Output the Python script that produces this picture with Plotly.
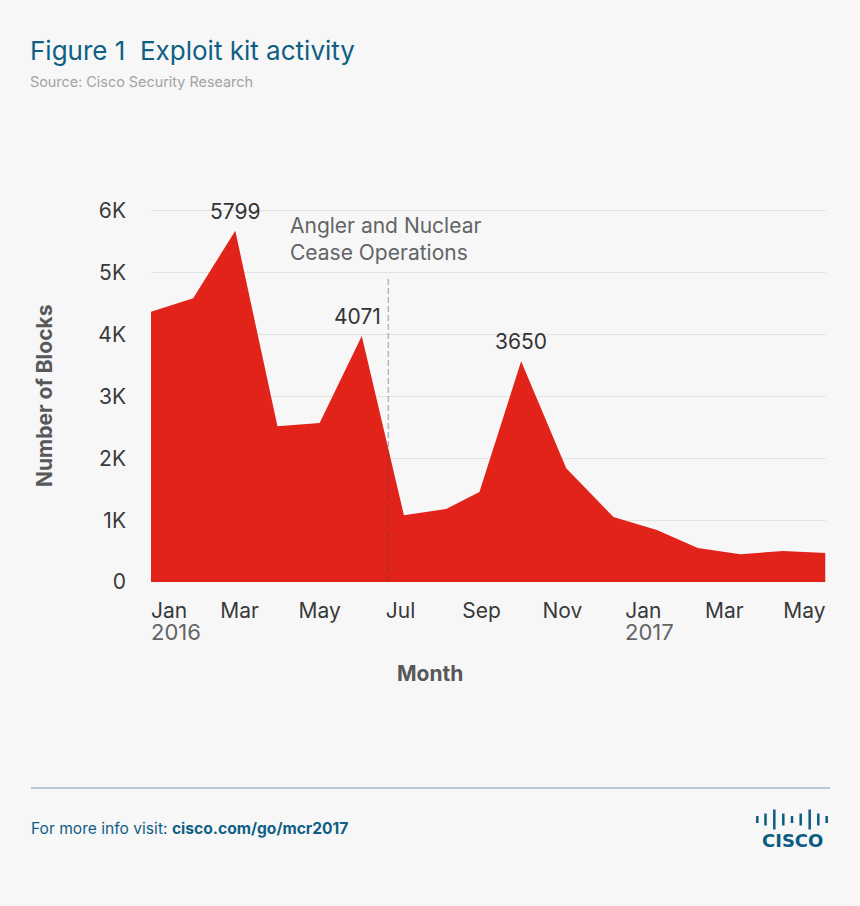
import plotly.graph_objects as go

# months counted from Jan 2016, values in blocks as read against the gridlines
month_pos = [0, 1, 2, 3, 4, 5, 6, 7, 7.79, 8.78, 9.85, 10.97, 12, 12.97, 13.98, 15, 16]
blocks = [4370, 4590, 5680, 2520, 2570, 3980, 1080, 1180, 1455, 3570, 1840, 1050, 840, 550, 450, 500, 470]

tick_months = [0.43, 2.1, 4, 5.92, 7.84, 9.76, 11.68, 13.6, 15.5]
tick_labels = ["Jan", "Mar", "May", "Jul", "Sep", "Nov", "Jan", "Mar", "May"]
y_ticks = [0, 1000, 2000, 3000, 4000, 5000, 6000]
y_labels = ["0", "1K", "2K", "3K", "4K", "5K", "6K"]

peak_months = [2, 4.9, 8.78]
peak_heights = [5680, 3980, 3570]
peak_labels = ["5799", "4071", "3650"]

W, H = 860, 906
FONT = "Inter"
BLUE = "#0f5f85"


def px(x):
    return x / W


def py(y):
    return 1 - y / H


fig = go.Figure()
fig.add_trace(go.Scatter(x=month_pos, y=blocks, mode="lines", fill="tozeroy",
                         fillcolor="#e2231a", line=dict(width=0, color="#e2231a"),
                         hoverinfo="skip", showlegend=False))

# y range runs a little past 6K so the top gridline still gets drawn
fig.update_layout(
    width=W, height=H,
    margin=dict(l=0, r=0, t=0, b=0),
    paper_bgcolor="#f7f7f7", plot_bgcolor="#f7f7f7",
    font=dict(family=FONT, size=21, color="#333333"),
    xaxis=dict(domain=[px(151), px(825.5)], range=[0, 16], showgrid=False, zeroline=False,
               automargin=False, tickmode="array", tickvals=tick_months, ticktext=tick_labels,
               ticks="", ticklabelstandoff=14, tickfont=dict(size=21, color="#39393b")),
    yaxis=dict(domain=[py(582), py(204.8)], range=[0, 6100], gridcolor="#e3e3e3", gridwidth=1,
               automargin=False, zeroline=False, tickmode="array", tickvals=y_ticks, ticktext=y_labels,
               ticks="", ticklabelstandoff=24, tickfont=dict(size=21, color="#39393b")),
)

# vertical marker, translucent so that it darkens over the area
fig.add_shape(type="line", xref="x", yref="y", x0=5.63, x1=5.63, y0=0, y1=4900,
              line=dict(color="rgba(70,70,70,0.36)", width=1.5, dash="6px,3px"))


def note(x, y, text, size, color, anchor="left", **kw):
    fig.add_annotation(xref="paper", yref="paper", x=px(x), y=py(y), text=text, showarrow=False,
                       xanchor=anchor, yanchor="middle", align=anchor, xshift=-2 if anchor == "left" else 0,
                       font=dict(family=kw.pop("family", FONT), size=size, color=color), **kw)


for m, h, label in zip(peak_months, peak_heights, peak_labels):
    fig.add_annotation(x=m, y=h, text=label, showarrow=False, yanchor="bottom", yshift=5,
                       font=dict(size=21, color="#333333"))

note(30, 51, "Figure 1  Exploit kit activity", 26, BLUE)
note(30, 81, "Source: Cisco Security Research", 14.4, "#a3a3a3")
note(290, 225, "Angler and Nuclear", 21, "#636466")
note(290, 253, "Cease Operations", 21, "#636466")
note(151, 632, "2016", 22, "#636466")
note(625, 632, "2017", 22, "#636466")
note(430, 673, "<b>Month</b>", 21, "#58585a", anchor="center")
note(44, 396, "<b>Number of Blocks</b>", 21, "#58585a", anchor="center", textangle=-90)
note(31, 828, "For more info visit: <b>cisco.com/go/mcr2017</b>", 15.6, BLUE)
note(792, 840, "<b>CISCO</b>", 18, "#0b5c82", anchor="center", family="DejaVu Sans")

# footer rule
fig.add_shape(type="line", xref="paper", yref="paper", x0=px(31), x1=px(830), y0=py(788), y1=py(788),
              line=dict(color="#7f95b5", width=1))

# logo bars
logo_x = [757.3, 765.5, 774.3, 783.3, 792, 800.7, 809.7, 818.3, 826.7]
logo_len = [7, 12, 20, 12, 7, 12, 20, 12, 7]
for lx, ln in zip(logo_x, logo_len):
    fig.add_shape(type="line", xref="paper", yref="paper", x0=px(lx), x1=px(lx),
                  y0=py(819.5 - ln / 2), y1=py(819.5 + ln / 2),
                  line=dict(color="#0b5c82", width=2.5))

fig.write_html("out.html", config=dict(displayModeBar=False),
               post_script="document.body.style.margin='0';document.body.style.background='#f7f7f7';")
